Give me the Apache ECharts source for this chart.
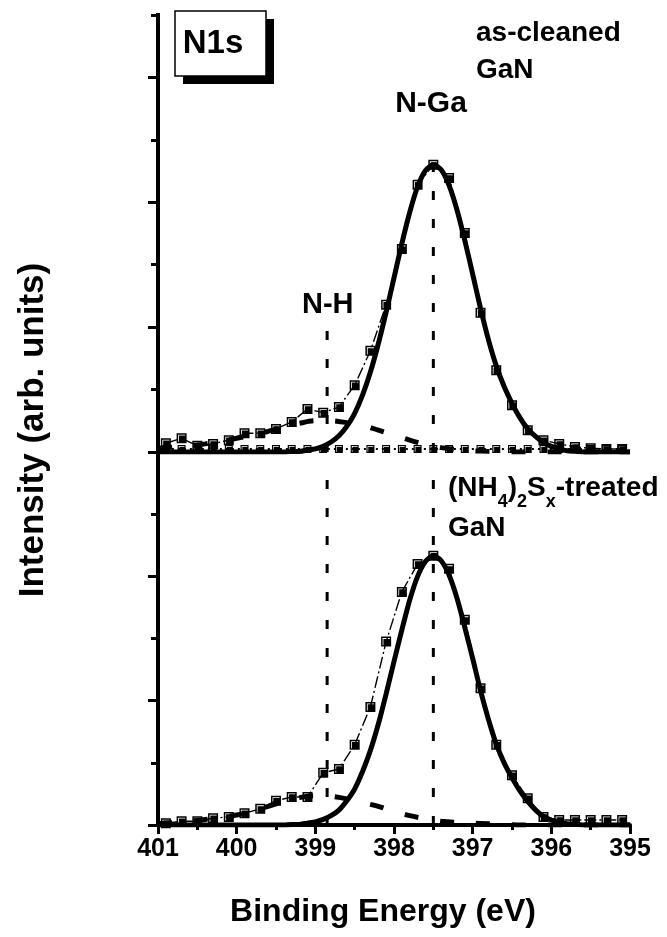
<!DOCTYPE html>
<html>
<head>
<meta charset="utf-8">
<script src="https://cdn.jsdelivr.net/npm/echarts@6/dist/echarts.min.js"></script>
<style>
html,body{margin:0;padding:0;background:#fff;}
#chart{width:667px;height:937px;}
</style>
</head>
<body>
<div id="chart"></div>
<script>
// ---------- data (binding energy in eV, intensity in arb. units) ----------
const xTicks = [401, 400, 399, 398, 397, 396, 395];

// measured points (squares), every 0.2 eV
const dataEnergies = [400.9, 400.7, 400.5, 400.3, 400.1, 399.9, 399.7, 399.5, 399.3, 399.1,
  398.9, 398.7, 398.5, 398.3, 398.1, 397.9, 397.7, 397.5, 397.3, 397.1,
  396.9, 396.7, 396.5, 396.3, 396.1, 395.9, 395.7, 395.5, 395.3, 395.1];
const dataCleaned = [0.14, 0.22, 0.10, 0.13, 0.19, 0.30, 0.30, 0.37, 0.48, 0.69,
  0.63, 0.72, 1.07, 1.62, 2.36, 3.25, 4.28, 4.60, 4.39, 3.51,
  2.23, 1.31, 0.75, 0.35, 0.19, 0.13, 0.08, 0.06, 0.05, 0.05];
const baselineCleaned = [0.05, 0.05, 0.05, 0.05, 0.05, 0.05, 0.05, 0.05, 0.05, 0.05,
  0.05, 0.05, 0.05, 0.05, 0.05, 0.05, 0.05, 0.05, 0.05, 0.05,
  0.05, 0.05, 0.05, 0.05, 0.05, 0.05, 0.05, 0.05, 0.05, 0.05];
const dataTreated = [0.03, 0.06, 0.06, 0.11, 0.13, 0.19, 0.26, 0.39, 0.45, 0.45,
  0.84, 0.90, 1.29, 1.90, 2.95, 3.75, 4.20, 4.33, 4.12, 3.30,
  2.20, 1.29, 0.80, 0.43, 0.13, 0.08, 0.08, 0.08, 0.08, 0.08];

// N-Ga fitted component (thick solid)
const ngaEnergies = [401.0, 399.6, 399.5, 399.4, 399.3, 399.2, 399.1, 399.0, 398.9, 398.8,
  398.7, 398.6, 398.5, 398.4, 398.3, 398.2, 398.1, 398.0, 397.9, 397.8,
  397.7, 397.6, 397.5, 397.4, 397.3, 397.2, 397.1, 397.0, 396.9, 396.8,
  396.7, 396.6, 396.5, 396.4, 396.3, 396.2, 396.1, 396.0, 395.9, 395.8,
  395.7, 395.6, 395.5, 395.4, 395.0];
const ngaCleaned = [0, 0, 0, 0, 0.01, 0.01, 0.03, 0.05, 0.09, 0.16,
  0.26, 0.41, 0.62, 0.91, 1.28, 1.73, 2.24, 2.79, 3.34, 3.84,
  4.25, 4.51, 4.60, 4.52, 4.27, 3.88, 3.39, 2.85, 2.30, 1.80,
  1.38, 1.05, 0.78, 0.55, 0.37, 0.25, 0.15, 0.09, 0.05, 0.02,
  0.01, 0, 0, 0, 0];
const ngaTreated = [0, 0, 0, 0, 0.01, 0.01, 0.03, 0.05, 0.09, 0.15,
  0.24, 0.39, 0.58, 0.86, 1.20, 1.62, 2.11, 2.63, 3.14, 3.62,
  4.00, 4.24, 4.33, 4.25, 4.02, 3.65, 3.18, 2.68, 2.16, 1.70,
  1.30, 1.00, 0.76, 0.55, 0.38, 0.24, 0.14, 0.08, 0.04, 0.02,
  0.01, 0, 0, 0, 0];

// N-H fitted component (thick dashed)
const nhEnergies = [401.0, 400.8, 400.6, 400.4, 400.2, 400.0, 399.8, 399.6, 399.4, 399.2,
  399.0, 398.8, 398.6, 398.4, 398.2, 398.0, 397.8, 397.6, 397.4, 397.2,
  397.0, 396.8, 396.6, 396.4, 396.2, 396.0, 395.0];
const nhCleaned = [0.06, 0.08, 0.10, 0.13, 0.17, 0.22, 0.27, 0.33, 0.40, 0.46,
  0.50, 0.50, 0.47, 0.43, 0.35, 0.27, 0.19, 0.12, 0.07, 0.04,
  0.02, 0.01, 0, 0, 0, 0, 0];
const nhTreated = [0.02, 0.04, 0.06, 0.09, 0.12, 0.16, 0.22, 0.30, 0.38, 0.44,
  0.47, 0.46, 0.42, 0.36, 0.30, 0.22, 0.15, 0.10, 0.06, 0.04,
  0.03, 0.02, 0.01, 0, 0, 0, 0];

// peak position markers (vertical dashed lines): [energy, top value]
const nhMarkCleaned = [398.85, 2.0];
const ngaMarkCleaned = [397.5, 4.75];
const nhMarkTreated = [398.85, 5.8];
const ngaMarkTreated = [397.5, 5.8];

// ---------- helpers ----------
const zip = (xs, ys) => xs.map((x, i) => [x, ys[i]]);
const vline = (m) => [[m[0], 0], [m[0], m[1]]];
const FONT = 'Liberation Sans, Arial, Helvetica, sans-serif';
const sq = 'path://M0,0L10,0L10,10L0,10Z M1.5,1.5L1.5,8.6L8.6,8.6L8.6,1.5Z M2.3,2.3L8.6,2.3L8.6,8.6L2.3,8.6Z';

function panelSeries(xi, yi, data, nga, nh, nhMark, ngaMark, baseline) {
  const s = [
    {type: 'line', xAxisIndex: xi, yAxisIndex: yi, data: zip(nhEnergies, nh), smooth: 0.3,
      symbol: 'none', lineStyle: {color: '#000', width: 5, type: [14, 22]}, z: 2},
    {type: 'line', xAxisIndex: xi, yAxisIndex: yi, data: zip(ngaEnergies, nga), smooth: 0.25,
      symbol: 'none', lineStyle: {color: '#000', width: 5}, z: 3},
    {type: 'line', xAxisIndex: xi, yAxisIndex: yi, data: vline(nhMark), symbol: 'none',
      lineStyle: {color: '#000', width: 3, type: [9, 19]}, z: 2},
    {type: 'line', xAxisIndex: xi, yAxisIndex: yi, data: vline(ngaMark), symbol: 'none',
      lineStyle: {color: '#000', width: 3, type: [9, 19]}, z: 2}
  ];
  if (baseline) {
    s.push({type: 'line', xAxisIndex: xi, yAxisIndex: yi, data: zip(dataEnergies, baseline),
      symbol: sq, symbolSize: 8, itemStyle: {color: '#000'},
      lineStyle: {color: '#000', width: 2, type: [2, 4]}, z: 4});
  }
  s.push({type: 'line', xAxisIndex: xi, yAxisIndex: yi, data: zip(dataEnergies, data),
    symbol: sq, symbolSize: 10, itemStyle: {color: '#000'},
    lineStyle: {color: '#000', width: 1.4, type: [12, 3, 2, 3]}, z: 5});
  return s;
}

const yShort = (gi, max, line) => ({
  type: 'value', gridIndex: gi, min: 0, max: max, interval: 1, position: 'left',
  axisLine: {show: line, onZero: false, lineStyle: {color: '#000', width: 4, cap: 'square'}},
  axisTick: {show: true, length: 7, lineStyle: {color: '#000', width: 3}},
  axisLabel: {show: false}, splitLine: {show: false}
});
const yLong = (gi, max) => ({
  type: 'value', gridIndex: gi, min: 0, max: max, position: 'left',
  axisLine: {show: false},
  axisTick: {show: true, length: 10, customValues: [0, 2, 4, 6], lineStyle: {color: '#000', width: 3}},
  axisLabel: {show: false}, splitLine: {show: false}
});

const chart = echarts.init(document.getElementById('chart'), null, {renderer: 'canvas'});
chart.setOption({
  animation: false,
  backgroundColor: '#fff',
  grid: [
    {left: 158, top: 15, width: 472, height: 437},
    {left: 158, top: 452, width: 472, height: 373}
  ],
  xAxis: [
    {type: 'value', gridIndex: 0, min: 395, max: 401, inverse: true, show: false},
    {type: 'value', gridIndex: 1, min: 395, max: 401, interval: 1, inverse: true,
      axisLine: {onZero: false, lineStyle: {color: '#000', width: 4}},
      axisTick: {length: 9, lineStyle: {color: '#000', width: 3}},
      minorTick: {show: true, splitNumber: 2, length: 5, lineStyle: {color: '#000', width: 3}},
      axisLabel: {margin: 12, color: '#000', fontSize: 25, fontWeight: 'bold', fontFamily: FONT,
        customValues: xTicks},
      splitLine: {show: false}, minorSplitLine: {show: false}}
  ],
  yAxis: [yShort(0, 7, true), yLong(0, 7), yShort(1, 6, true), yLong(1, 6)],
  series: [].concat(
    panelSeries(0, 0, dataCleaned, ngaCleaned, nhCleaned, nhMarkCleaned, ngaMarkCleaned, baselineCleaned),
    panelSeries(1, 2, dataTreated, ngaTreated, nhTreated, nhMarkTreated, ngaMarkTreated, null)
  ),
  graphic: [
    {type: 'rect', shape: {x: 183, y: 19, width: 91, height: 65}, style: {fill: '#000'}, z: 10},
    {type: 'rect', shape: {x: 175, y: 11, width: 91, height: 65}, style: {fill: '#fff', stroke: '#000', lineWidth: 1.5}, z: 11},
    {type: 'text', x: 213, y: 44, z: 12, style: {text: 'N1s', fill: '#000', font: 'bold 33px ' + FONT,
      align: 'center', verticalAlign: 'middle', textAlign: 'center', textVerticalAlign: 'middle'}},
    {type: 'text', x: 476, y: 33, z: 12, style: {text: 'as-cleaned', fill: '#000', font: 'bold 28px ' + FONT,
      align: 'left', verticalAlign: 'middle', textAlign: 'left', textVerticalAlign: 'middle'}},
    {type: 'text', x: 476, y: 70, z: 12, style: {text: 'GaN', fill: '#000', font: 'bold 28px ' + FONT,
      align: 'left', verticalAlign: 'middle', textAlign: 'left', textVerticalAlign: 'middle'}},
    {type: 'text', x: 431, y: 104, z: 12, style: {text: 'N-Ga', fill: '#000', font: 'bold 30px ' + FONT,
      align: 'center', verticalAlign: 'middle', textAlign: 'center', textVerticalAlign: 'middle'}},
    {type: 'text', x: 302, y: 305, z: 12, style: {text: 'N-H', fill: '#000', font: 'bold 29px ' + FONT,
      align: 'left', verticalAlign: 'middle', textAlign: 'left', textVerticalAlign: 'middle'}},
    {type: 'text', x: 448, y: 474, z: 12, style: {
      text: '{m|(NH}{s|4}{m|)}{s|2}{m|S}{s|x}{m|-treated}', fill: '#000',
      align: 'left', verticalAlign: 'top', textAlign: 'left', textVerticalAlign: 'top',
      rich: {
        m: {fontSize: 28, fontWeight: 'bold', fontFamily: FONT, fill: '#000', color: '#000', verticalAlign: 'top', lineHeight: 28},
        s: {fontSize: 18, fontWeight: 'bold', fontFamily: FONT, fill: '#000', color: '#000', verticalAlign: 'top', lineHeight: 18, padding: [19, 0, 0, 0]}
      }}},
    {type: 'text', x: 448, y: 528, z: 12, style: {text: 'GaN', fill: '#000', font: 'bold 28px ' + FONT,
      align: 'left', verticalAlign: 'middle', textAlign: 'left', textVerticalAlign: 'middle'}},
    {type: 'text', x: 383, y: 912, z: 12, style: {text: 'Binding Energy (eV)', fill: '#000', font: 'bold 32px ' + FONT,
      align: 'center', verticalAlign: 'middle', textAlign: 'center', textVerticalAlign: 'middle'}},
    {type: 'text', x: 33, y: 430, rotation: Math.PI / 2, z: 12, style: {text: 'Intensity (arb. units)', fill: '#000',
      font: 'bold 35px ' + FONT, align: 'center', verticalAlign: 'middle', textAlign: 'center', textVerticalAlign: 'middle'}}
  ]
});
</script>
</body>
</html>
